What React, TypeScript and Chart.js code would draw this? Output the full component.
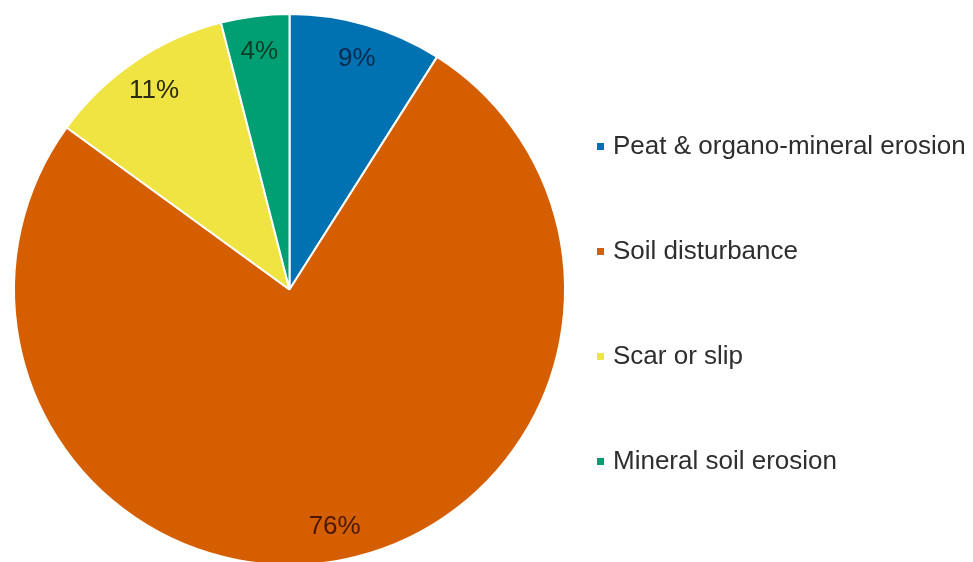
import React, { useEffect, useRef } from "react";
import { Chart, registerables } from "chart.js";

Chart.register(...registerables);

const categories = [
  "Peat & organo-mineral erosion",
  "Soil disturbance",
  "Scar or slip",
  "Mineral soil erosion",
];
const values = [9, 76, 11, 4];
const valueLabels = ["9%", "76%", "11%", "4%"];
const sliceColors = ["#0072B2", "#D55E00", "#F0E442", "#009E73"];
const labelColors = ["#0b2a4e", "#4a1800", "#2a2a10", "#0d3d28"];

const FONT = "'Liberation Sans', Arial, sans-serif";

const pieLabelPlugin = {
  id: "pieLabels",
  afterDatasetsDraw(chart: any) {
    const ctx = chart.ctx;
    const meta = chart.getDatasetMeta(0);
    ctx.save();
    ctx.font = `26px ${FONT}`;
    ctx.textAlign = "center";
    ctx.textBaseline = "middle";
    meta.data.forEach((arc: any, i: number) => {
      const p = arc.getProps(["x", "y", "startAngle", "endAngle", "outerRadius"], true);
      const mid = (p.startAngle + p.endAngle) / 2;
      const r = p.outerRadius * 0.875;
      ctx.fillStyle = labelColors[i];
      ctx.fillText(valueLabels[i], p.x + Math.cos(mid) * r, p.y + Math.sin(mid) * r + 1);
    });
    ctx.restore();
  },
};

const legendPlugin = {
  id: "customLegend",
  afterDraw(chart: any) {
    const ctx = chart.ctx;
    ctx.save();
    ctx.font = `26px ${FONT}`;
    ctx.textAlign = "left";
    ctx.textBaseline = "middle";
    const x0 = 597;
    const y0 = 146;
    const step = 105;
    categories.forEach((c, i) => {
      const y = y0 + i * step;
      ctx.fillStyle = sliceColors[i];
      ctx.fillRect(x0, y - 3, 7, 7);
      ctx.fillStyle = "#2e2e2e";
      ctx.fillText(c, 613, y + 1);
    });
    ctx.restore();
  },
};

export default function App() {
  const ref = useRef<HTMLCanvasElement>(null);
  useEffect(() => {
    document.body.style.margin = "0";
    const chart = new Chart(ref.current!, {
      type: "pie",
      data: {
        labels: categories,
        datasets: [
          {
            data: values,
            backgroundColor: sliceColors,
            borderColor: "#ffffff",
            borderWidth: 2,
          },
        ],
      },
      options: {
        animation: false,
        responsive: false,
        layout: { padding: { left: 13, top: 13, right: 407, bottom: 14 } },
        plugins: {
          legend: { display: false },
          tooltip: { enabled: false },
        },
      },
      plugins: [pieLabelPlugin, legendPlugin],
    });
    return () => chart.destroy();
  }, []);
  return (
    <div style={{ width: 973, height: 562, background: "#fff", overflow: "hidden" }}>
      <canvas ref={ref} width={973} height={580} style={{ display: "block" }} />
    </div>
  );
}
